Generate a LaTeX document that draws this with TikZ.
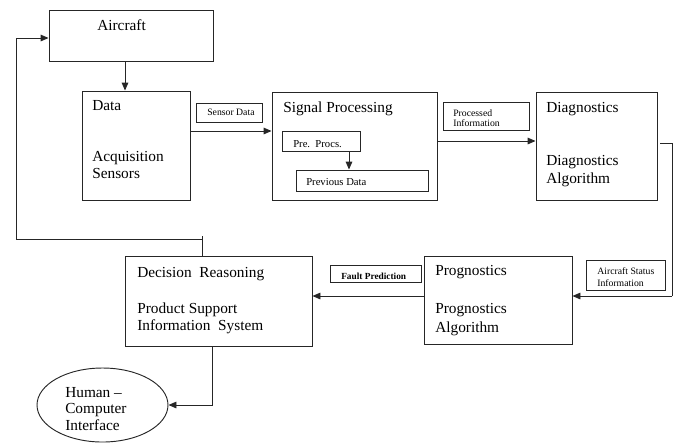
\documentclass[tikz,border=0pt]{standalone}
\usepackage{fontspec}
\setmainfont{Liberation Serif}
\usetikzlibrary{arrows.meta,shapes.geometric}
\tikzset{
  box/.style={draw=black!85, line width=0.7pt, inner sep=0pt},
  lbl/.style={draw=black!85, line width=0.7pt, inner sep=0pt},
  big/.style={anchor=base west, inner sep=0pt, font=\fontsize{11.5}{13.5}\selectfont},
  mid/.style={anchor=base west, inner sep=0pt, font=\fontsize{8}{9.5}\selectfont},
  small/.style={anchor=base west, inner sep=0pt, font=\fontsize{7.3}{9}\selectfont, align=left},
  arr/.style={draw=black!85, line width=0.7pt, -{Triangle[length=6pt,width=5pt]}},
  ln/.style={draw=black!85, line width=0.7pt},
}
\newcommand{\bx}[6]{% name, x0, y0, x1, y1, style
  \node[#6, minimum width={(#4-#2)*0.75pt}, minimum height={(#5-#3)*0.75pt}]
    (#1) at ({(#2+#4)/2},{(#3+#5)/2}) {};}
\begin{document}
\begin{tikzpicture}[x=0.75pt, y=-0.75pt]
\useasboundingbox (0,0) rectangle (677,444);

% main blocks
\bx{air}{49}{10}{213}{61}{box}
\bx{dat}{82}{91}{190}{200}{box}
\bx{sig}{272}{92}{437}{200}{box}
\bx{pre}{282}{131}{360}{151}{box}
\bx{prv}{296}{170}{428}{191}{box}
\bx{dia}{536}{92}{657}{200}{box}
\bx{pro}{424}{256}{572}{344}{box}
\bx{dec}{125}{256}{312}{346}{box}
\node[draw=black!85, line width=0.7pt, ellipse, minimum width=131*0.75pt,
      minimum height=74*0.75pt, inner sep=0pt] (hci) at (102.5,405) {};

% label boxes on the connectors
\bx{sd}{196}{103}{262}{122}{lbl}
\bx{pi}{443}{102}{529}{130}{lbl}
\bx{fp}{330}{265}{421}{282}{lbl}
\bx{as}{586}{260}{665}{290}{lbl}

% texts
\node[big] (tair) at (97,30) {Aircraft};
\node[big] (tdat1) at (92,110) {Data};
\node[big] (tdat2) at (92,161) {Acquisition};
\node[big] (tdat3) at (92,178) {Sensors};
\node[big] (tsig) at (283,112) {Signal Processing};
\node[mid] (tpre) at (293,147) {Pre.\ \ Procs.};
\node[mid] (tprv) at (306,185) {Previous Data};
\node[big] (tdia1) at (546,112) {Diagnostics};
\node[big] (tdia2) at (546,165) {Diagnostics};
\node[big] (tdia3) at (546,183) {Algorithm};
\node[big] (tpro1) at (435,275) {Prognostics};
\node[big] (tpro2) at (435,313) {Prognostics};
\node[big] (tpro3) at (435,332) {Algorithm};
\node[big] (tdec1) at (137,277) {Decision\ \ Reasoning};
\node[big] (tdec2) at (137,313) {Product Support};
\node[big] (tdec3) at (137,330) {Information\ \ System};
\node[big] (thci1) at (65,397) {Human –};
\node[big] (thci2) at (65,413) {Computer};
\node[big] (thci3) at (65,430) {Interface};

\node[small] (tsd) at (207,115) {Sensor Data};
\node[small] (tpi1) at (453,116) {Processed};
\node[small] (tpi2) at (453,126) {Information};
\node[small, font=\bfseries\fontsize{7}{9}\selectfont] (tfp) at (341,279) {Fault Prediction};
\node[small] (tas1) at (597,274) {Aircraft Status};
\node[small] (tas2) at (597,286) {Information};

% routing points
\coordinate (c125) at (125,0);
\coordinate (c131) at (0,131);
\coordinate (c141) at (0,141);
\coordinate (c349) at (349,0);
\coordinate (d1) at (660,143);
\coordinate (d2) at (672,296);
\coordinate (c296) at (0,296);
\coordinate (f1) at (202,239);
\coordinate (f2) at (16,239);
\coordinate (c38) at (0,38);
\coordinate (h1) at (212,406);

% connectors
\draw[arr] (air.south -| c125) -- (dat.north -| c125);
\draw[arr] (dat.east |- c131) -- (sig.west |- c131);
\draw[arr] (pre.south -| c349) -- (prv.north -| c349);
\draw[arr] (sig.east |- c141) -- (dia.west |- c141);
\draw[ln] (d1) -| (d2);
\draw[arr] (d2) -- (pro.east |- c296);
\draw[arr] (pro.west |- c296) -- (dec.east |- c296);
\draw[ln] (dec.north -| f1) -- ([yshift=3*0.75pt]f1);
\draw[arr] (f1) -- (f2) |- (air.west |- c38);
\draw[arr] (dec.south -| h1) |- (hci.east);
\end{tikzpicture}
\end{document}
